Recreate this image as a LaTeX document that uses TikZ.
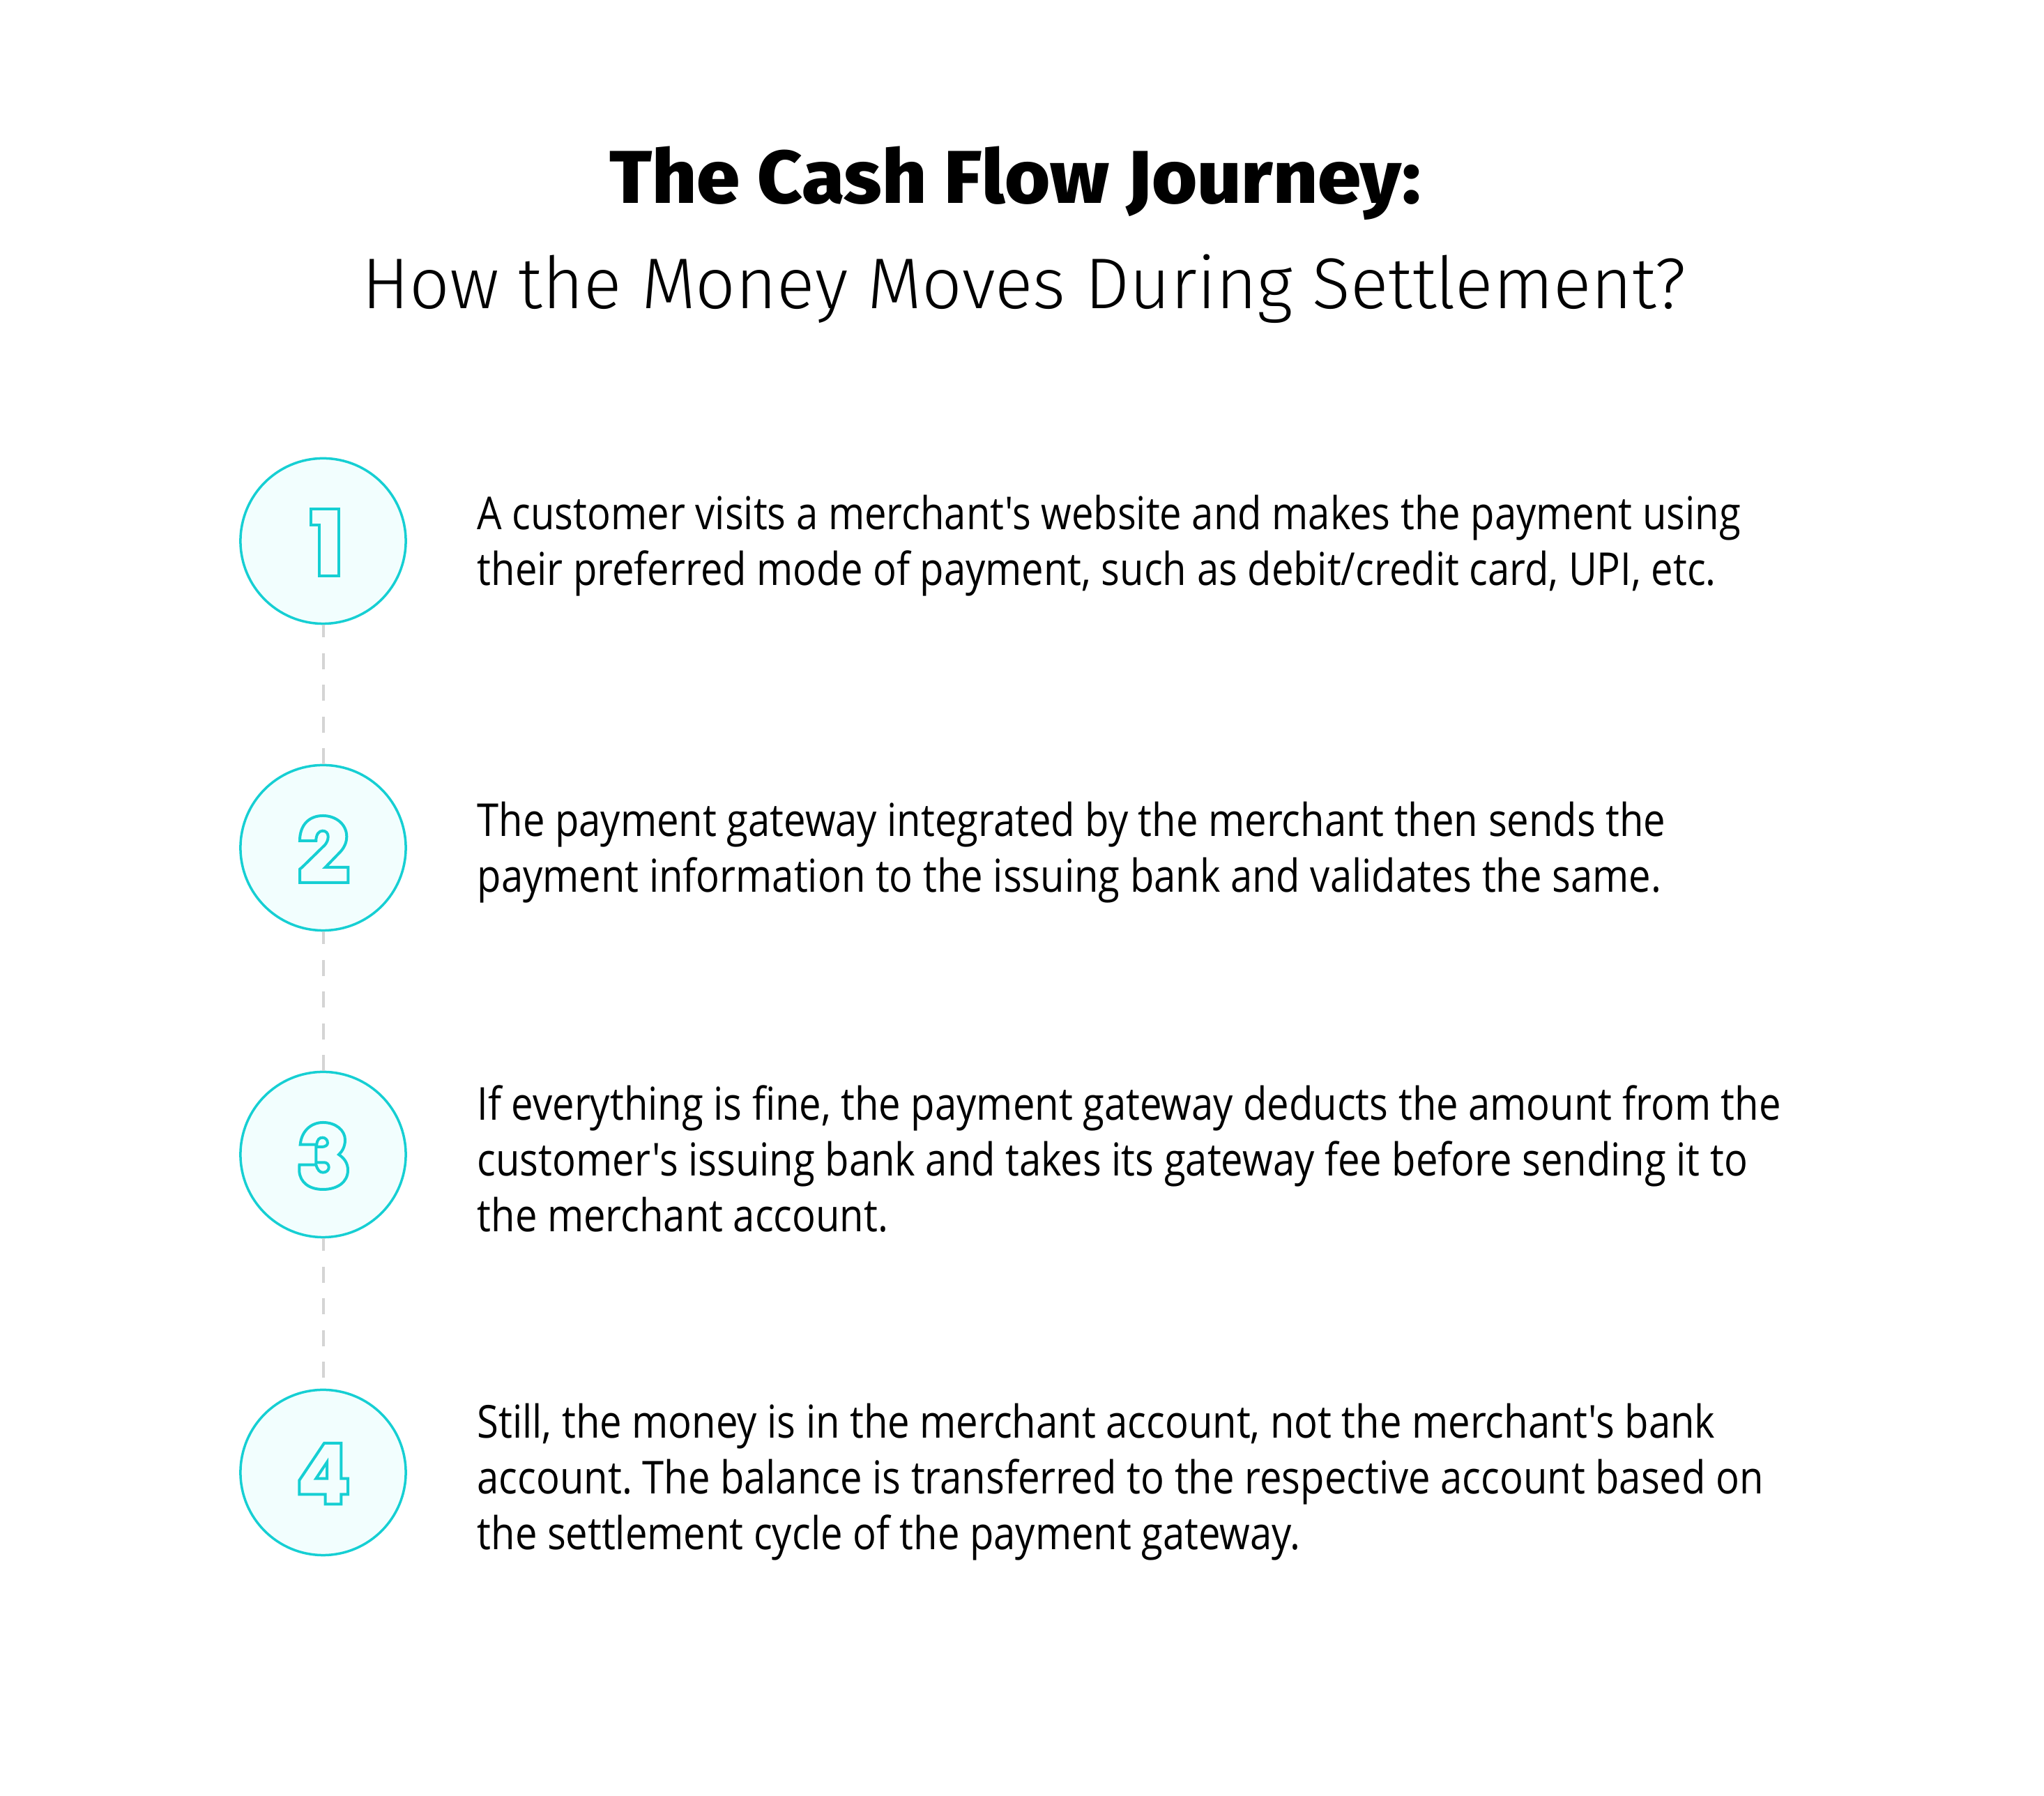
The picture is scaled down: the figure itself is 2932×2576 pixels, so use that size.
\documentclass[tikz,border=0pt]{standalone}
\usepackage{fontspec}
\setmainfont{Open Sans}[Ligatures=TeXOff]
\newfontfamily\titlefont{Fira Sans ExtraBold}
\newfontfamily\subfont{Fira Sans Light}
\frenchspacing
\definecolor{tealc}{HTML}{16CFD3}
\definecolor{tealfill}{HTML}{F2FEFE}
\definecolor{dashgray}{HTML}{D4D4D4}
\newcommand{\bodylines}[1]{\scalebox{0.863}[1]{\begin{tabular}[b]{@{}l@{}}#1\end{tabular}}}
\tikzset{
  stepcircle/.style={circle, draw=tealc, fill=tealfill, line width=0.035cm, minimum size=2.37cm, inner sep=0pt},
  digit/.style={draw=tealc, line width=0.04cm, line join=miter},
  linkline/.style={draw=dashgray, line width=0.04cm, dash pattern=on 0.23cm off 0.225cm, dash phase=0.05cm},
  bodytext/.style={anchor=base west, inner sep=0pt, font=\fontsize{18.5}{22.76}\selectfont\frenchspacing},
}
\begin{document}
\begin{tikzpicture}[x=0.01cm, y=0.01cm]
\useasboundingbox[fill=white] (0,0) rectangle (2932,2576);

\node[anchor=base, inner sep=0pt] (title) at (1456,2284) {\resizebox{11.63cm}{\height}{\titlefont\fontsize{30.5}{36}\selectfont The Cash Flow Journey:}};
\node[anchor=base, inner sep=0pt] (subtitle) at (1469,2133) {\resizebox{18.98cm}{\height}{\subfont\fontsize{29.3}{36}\selectfont How the Money Moves During Settlement?}};

\node[stepcircle] (c1) at (463.5,1800) {};
\node[stepcircle] (c2) at (463.5,1360) {};
\node[stepcircle] (c3) at (463.5,920) {};
\node[stepcircle] (c4) at (463.5,464) {};

\draw[linkline] (c1.south) -- (c2.north);
\draw[linkline] (c2.south) -- (c3.north);
\draw[linkline] (c3.south) -- (c4.north);

% digit 1
\begin{scope}[shift={(c1.center)}]
\draw[digit] (-17.5,46) -- (22.2,46) -- (22.2,-49.7) -- (-5.2,-49.7) -- (-5.2,22.7) -- (-17.5,22.7) -- cycle;
\end{scope}
% digit 2
\begin{scope}[shift={(c2.center)}]
\draw[digit] (-33.5,-50) -- (35.8,-50) -- (35.8,-28) -- (3.2,-28) -- (24.8,-5.7)
  .. controls (30.5,0.5) and (33.8,8) .. (33.8,16)
  .. controls (33.8,34) and (18,46) .. (-0.2,46)
  .. controls (-20,46) and (-33.5,33) .. (-33.5,10)
  -- (-10.2,10)
  .. controls (-10.2,19) and (-6,24.3) .. (-0.8,24.3)
  .. controls (4,24.3) and (7.2,21) .. (7.2,16)
  .. controls (7.2,11) and (5,7) .. (2.5,4)
  -- (-30.2,-28) -- (-33.5,-30.7) -- cycle;
\end{scope}
% digit 3
\begin{scope}[shift={(c3.center)}]
\draw[digit] (-34,-14.7) -- (-10.2,-14.7)
  .. controls (-8,-22) and (-5,-25.7) .. (-0.2,-25.7)
  .. controls (5,-25.7) and (8.2,-22) .. (8.2,-18.3)
  .. controls (8.2,-14) and (5,-11.3) .. (1.5,-11.3)
  -- (-10.2,-11.3) -- (-10.2,11) -- (-1.8,11)
  .. controls (3,11) and (6.5,13.5) .. (6.5,16.7)
  .. controls (6.5,21) and (3,24.3) .. (-0.8,24.3)
  .. controls (-5,24.3) and (-8.5,22) .. (-9.2,14.3)
  -- (-32.8,14.3)
  .. controls (-31,34) and (-17,46) .. (-0.2,46)
  .. controls (18,46) and (31.5,35) .. (31.5,21)
  .. controls (31.5,11) and (27,4) .. (22.5,0)
  .. controls (30,-5) and (35.5,-12) .. (35.5,-22.3)
  .. controls (35.5,-40) and (20,-50) .. (-0.2,-50)
  .. controls (-20,-50) and (-33,-40) .. (-34.2,-24)
  -- cycle;
\end{scope}
% digit 4
\begin{scope}[shift={(c4.center)}]
\draw[digit] (1.5,42) -- (25.8,42) -- (25.8,-8.7) -- (35.5,-8.7) -- (35.5,-31.3) -- (25.8,-31.3) -- (25.8,-45.3) -- (3.2,-45.3) -- (3.2,-31.3) -- (-34.2,-31.3) -- (-34.2,-11.3) -- cycle;
\draw[digit] (-10.2,-8.7) -- (5.5,14.7) -- (5.5,-8.7) -- cycle;
\end{scope}

\node[bodytext] (t1) at (684,1736) {\bodylines{A customer visits a merchant's website and makes the payment using\\their preferred mode of payment, such as debit/credit card, UPI, etc.}};
\node[bodytext] (t2) at (684,1296) {\bodylines{The payment gateway integrated by the merchant then sends the\\payment information to the issuing bank and validates the same.}};
\node[bodytext] (t3) at (684,809) {\bodylines{If everything is fine, the payment gateway deducts the amount from the\\customer's issuing bank and takes its gateway fee before sending it to\\the merchant account.}};
\node[bodytext] (t4) at (684,353) {\bodylines{Still, the money is in the merchant account, not the merchant's bank\\account. The balance is transferred to the respective account based on\\the settlement cycle of the payment gateway.}};
\end{tikzpicture}
\end{document}
